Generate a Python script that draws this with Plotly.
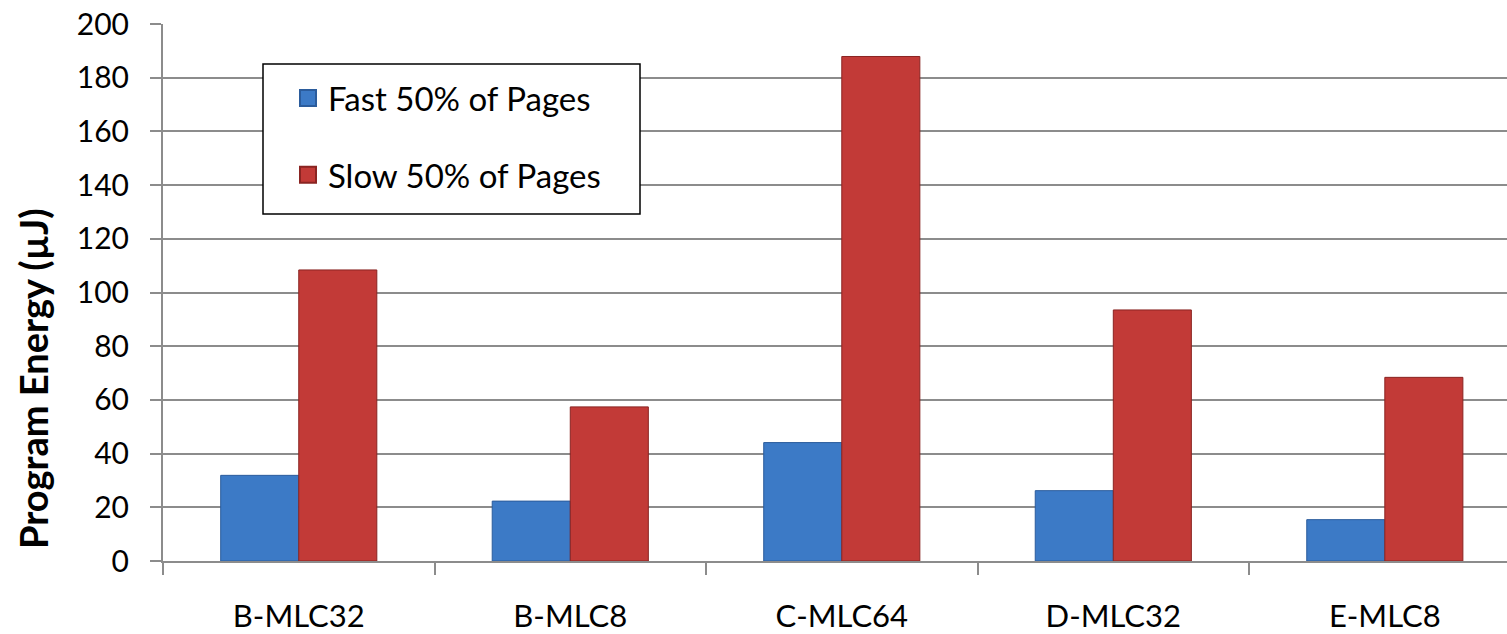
import plotly.graph_objects as go

categories = ["B-MLC32", "B-MLC8", "C-MLC64", "D-MLC32", "E-MLC8"]
fast_pages = [31.9, 22.3, 44.1, 26.2, 15.4]
slow_pages = [108.4, 57.4, 187.9, 93.5, 68.4]
series_names = ["Fast 50% of Pages", "Slow 50% of Pages"]
y_tick_values = [0, 20, 40, 60, 80, 100, 120, 140, 160, 180, 200]
y_title = "Program Energy (µJ)"

W, H = 1507, 634
PLOT_L, PLOT_R, PLOT_T, PLOT_B = 163, 1507, 24, 561  # pixels
L, R, T, B = PLOT_L, W - PLOT_R, PLOT_T, H - PLOT_B
PW, PH = W - L - R, H - T - B

FONT = "Lato, 'Open Sans', sans-serif"
BLUE, BLUE_EDGE = "#3C7AC6", "#2B5C9C"
RED, RED_EDGE = "#C23A37", "#8A2422"
GRID = "#8C8C8C"


def px_x(x):
    return (x - PLOT_L) / PW


def px_y(y):
    return (PLOT_B - y) / PH


fig = go.Figure()
fig.add_bar(x=categories, y=fast_pages, name=series_names[0], showlegend=False,
            marker=dict(color=BLUE, line=dict(color=BLUE_EDGE, width=1)))
fig.add_bar(x=categories, y=slow_pages, name=series_names[1], showlegend=False,
            marker=dict(color=RED, line=dict(color=RED_EDGE, width=1)))

# legend entries
for name, c, e, g in [(series_names[0], BLUE, BLUE_EDGE, "a"), (series_names[1], RED, RED_EDGE, "b")]:
    fig.add_scatter(x=[None], y=[None], mode="markers", name=name, legendgroup=g,
                    marker=dict(symbol="square", size=16, color=c, line=dict(color=e, width=2)))

# legend frame
fig.add_shape(type="rect", xref="paper", yref="paper",
              x0=px_x(263), x1=px_x(640), y0=px_y(214), y1=px_y(64),
              line=dict(color="black", width=1.5), fillcolor="white", layer="above")

fig.add_annotation(text=y_title, textangle=-90, xref="paper", yref="paper",
                   x=px_x(33), y=px_y(379), xanchor="center", yanchor="middle", showarrow=False,
                   font=dict(family=FONT, size=38, color="black", weight="bold"))

fig.update_layout(
    width=W, height=H,
    margin=dict(l=L, r=R, t=T, b=B, pad=0),
    paper_bgcolor="white", plot_bgcolor="white",
    barmode="group", bargap=0.425, bargroupgap=0,
    font=dict(family=FONT, size=30, color="black"),
    showlegend=True,
    legend=dict(x=px_x(263), y=px_y(70), xanchor="left", yanchor="top",
                bgcolor="rgba(0,0,0,0)", borderwidth=0,
                font=dict(family=FONT, size=33, color="black"),
                traceorder="grouped", tracegroupgap=31, indentation=25),
    xaxis=dict(type="category", range=[-0.5, 4.45], showgrid=False, automargin=False,
               showline=True, linecolor=GRID, linewidth=2,
               ticks="outside", tickson="boundaries", ticklen=12, tickwidth=2, tickcolor=GRID,
               ticklabelstandoff=27, ticklabeloverflow="allow",
               tickfont=dict(family=FONT, size=31, color="black")),
    yaxis=dict(range=[0, 200], tickvals=y_tick_values, showgrid=True, gridcolor=GRID, gridwidth=2,
               automargin=False, showline=True, linecolor=GRID, linewidth=2, zeroline=False,
               ticks="outside", ticklen=11, tickwidth=2, tickcolor=GRID,
               ticklabelstandoff=15, ticklabeloverflow="allow",
               tickfont=dict(family=FONT, size=30, color="black")),
)

fig.write_html("out.html", config={"displayModeBar": False},
               post_script="document.body.style.margin='0';")
